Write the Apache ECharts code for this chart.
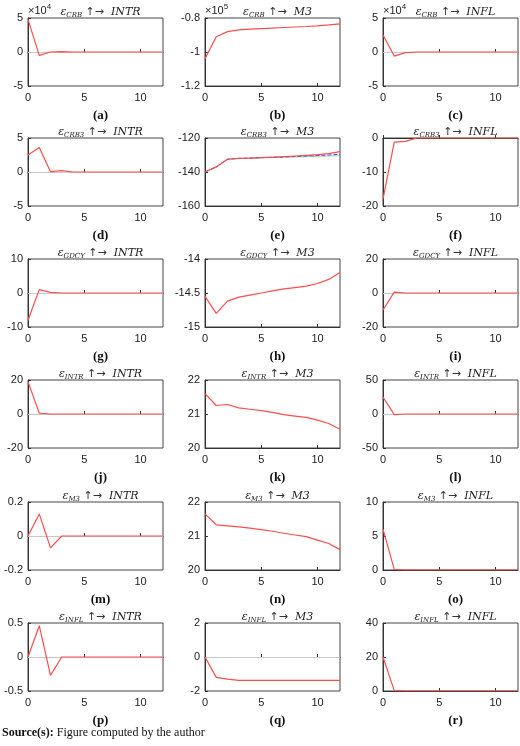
<!DOCTYPE html>
<html>
<head>
<meta charset="utf-8">
<script src="https://cdn.jsdelivr.net/npm/echarts@6/dist/echarts.min.js"></script>
<style>html,body{margin:0;padding:0;background:#fff}#main{width:520px;height:746px}</style>
</head>
<body>
<div id="main"></div>
<script>
// 数据
var shocks = ['CRB','CRB3','GDCY','INTR','M3','INFL'];
var responses = ['INTR','M3','INFL'];
var letters = ['a','b','c','d','e','f','g','h','i','j','k','l','m','n','o','p','q','r'];
var periods = [0,1,2,3,4,5,6,7,8,9,10,11,12];
var series = [
  [4.8,-0.5,0,0.05,0,0,0,0,0,0,0,0,0],
  [-1.04,-0.91,-0.88,-0.87,-0.866,-0.862,-0.859,-0.856,-0.853,-0.85,-0.846,-0.841,-0.835],
  [2.5,-0.6,-0.1,0,0,0,0,0,0,0,0,0,0],
  [2.5,3.6,0.05,0.2,0,0,0,0,0,0,0,0,0],
  [-140,-137,-132.5,-132,-131.8,-131.5,-131.2,-131,-130.6,-130.2,-129.8,-129.2,-128],
  [-18,-1.2,-1,0,0,0,0,0,0,0,0,0,0],
  [-8,1,0.2,0,0,0,0,0,0,0,0,0,0],
  [-14.55,-14.8,-14.62,-14.56,-14.53,-14.5,-14.47,-14.44,-14.42,-14.4,-14.36,-14.3,-14.2],
  [-10,0.5,0,0,0,0,0,0,0,0,0,0,0],
  [19,0.5,0,0,0,0,0,0,0,0,0,0,0],
  [21.6,21.25,21.28,21.18,21.14,21.1,21.05,20.98,20.94,20.9,20.82,20.72,20.55],
  [25,-1,0,0,0,0,0,0,0,0,0,0,0],
  [0,0.13,-0.07,0,0,0,0,0,0,0,0,0,0],
  [21.65,21.33,21.3,21.27,21.23,21.19,21.14,21.08,21.03,20.98,20.88,20.78,20.6],
  [6,0.1,0,0,0,0,0,0,0,0,0,0,0],
  [0,0.46,-0.27,0,0,0,0,0,0,0,0,0,0],
  [0,-1.2,-1.3,-1.38,-1.38,-1.38,-1.38,-1.38,-1.38,-1.38,-1.38,-1.37,-1.37],
  [20,0.2,0,0,0,0,0,0,0,0,0,0,0]
];
// e 面板的其他两条线
var eBlue = [-140,-137,-132.5,-132,-131.8,-131.6,-131.4,-131.2,-130.9,-130.6,-130.3,-130,-129.6];
var eGreen = [-140,-137,-132.5,-132,-131.8,-131.6,-131.5,-131.4,-131.2,-131,-130.8,-130.6,-130.4];
var yMin = [-5,-1.2,-5,-5,-160,-20,-10,-15,-20,-20,20,-50,-0.2,20,0,-0.5,-2,0];
var yMax = [5,-0.8,5,5,-120,0,10,-14,20,20,22,50,0.2,22,10,0.5,2,40];
var yStep = [5,0.2,5,5,20,10,10,0.5,20,20,1,50,0.2,1,5,0.5,2,20];

var colLeft = [28,205,383], plotW = 135;
var rowTop = [18,138,259,380,502,623], plotH = 68;

var grids = [], xAxes = [], yAxes = [], allSeries = [], titles = [], graphics = [];
var axisLine = {show:true, lineStyle:{color:'#333', width:1}};
var lab = {color:'#222', fontSize:11, fontFamily:'Liberation Sans'};
var rich = {
  e:{fontFamily:'DejaVu Serif', fontSize:11, fontStyle:'italic', fontWeight:'normal', color:'#222'},
  s:{fontFamily:'DejaVu Serif', fontSize:7, fontStyle:'italic', fontWeight:'normal', color:'#222', padding:[6,0,0,0]},
  a:{fontFamily:'DejaVu Sans', fontSize:11, fontWeight:'normal', color:'#333'},
  r:{fontFamily:'DejaVu Serif', fontSize:11, fontStyle:'italic', fontWeight:'normal', color:'#222'}
};
for (var k = 0; k < 18; k++) {
  var row = Math.floor(k/3), col = k%3;
  var L = colLeft[col], T = rowTop[row];
  grids.push({left:L, top:T, width:plotW, height:plotH, show:true, borderColor:'#444', borderWidth:1});
  xAxes.push({type:'value', gridIndex:k, min:0, max:12, interval:5, axisLine:axisLine,
    axisTick:{show:true, inside:true, length:3, lineStyle:{color:'#333'}},
    splitLine:{show:false}, axisLabel:Object.assign({margin:6, showMaxLabel:false}, lab)});
  yAxes.push({type:'value', gridIndex:k, min:yMin[k], max:yMax[k], interval:yStep[k], axisLine:axisLine,
    axisTick:{show:true, inside:true, length:3, lineStyle:{color:'#333'}},
    splitLine:{show:false}, axisLabel:Object.assign({margin:5}, lab)});
  var hasZero = yMin[k] < 0 && yMax[k] > 0;
  allSeries.push({type:'line', xAxisIndex:k, yAxisIndex:k, data:periods.map(function(p,i){return [p, series[k][i]];}),
    symbol:'none', lineStyle:{color:'#ff4d4d', width:1.2}, z:5,
    markLine: hasZero ? {silent:true, symbol:'none', label:{show:false}, lineStyle:{color:'#c8c8c8', type:'solid', width:1}, data:[{yAxis:0}]} : undefined});
  titles.push({text:'{e|ε}{s|'+shocks[row]+'}{a| ↑→  }{r|'+responses[col]+'}', left:L+plotW/2, top:T-17, textAlign:'center',
    textStyle:{fontWeight:'normal', rich:rich}});
  titles.push({text:'('+letters[k]+')', left:L+plotW/2, top:T+plotH+18, textAlign:'center',
    textStyle:{fontFamily:'Liberation Serif', fontWeight:'bold', fontSize:13, color:'#111'}});
}
allSeries.push({type:'line', xAxisIndex:4, yAxisIndex:4, data:periods.map(function(p,i){return [p, eBlue[i]];}),
  symbol:'none', lineStyle:{color:'#3344ff', width:1, type:'dashed'}, z:4});
allSeries.push({type:'line', xAxisIndex:4, yAxisIndex:4, data:periods.map(function(p,i){return [p, eGreen[i]];}),
  symbol:'none', lineStyle:{color:'#33bb33', width:1, type:'dotted'}, z:3});

var expo = [['×10','4',28],['×10','5',205],['×10','4',383]];
expo.forEach(function(e){
  graphics.push({type:'text', left:e[2], top:3, style:{text:'{b|'+e[0]+'}{p|'+e[1]+'}',
    rich:{b:{fontSize:11, fontFamily:'Liberation Sans', fill:'#222'}, p:{fontSize:8, fontFamily:'Liberation Sans', fill:'#222', padding:[0,0,7,0]}}}});
});
graphics.push({type:'text', left:2, top:727, style:{text:'{b|Source(s):} Figure computed by the author',
  font:'12px "Liberation Serif"', fill:'#111', rich:{b:{fontWeight:'bold', fontSize:12, fontFamily:'Liberation Serif', fill:'#111'}}}});

var myChart = echarts.init(document.getElementById('main'));
myChart.setOption({
  animation:false,
  title:titles,
  grid:grids,
  xAxis:xAxes,
  yAxis:yAxes,
  series:allSeries,
  graphic:graphics
});
</script>
</body>
</html>
